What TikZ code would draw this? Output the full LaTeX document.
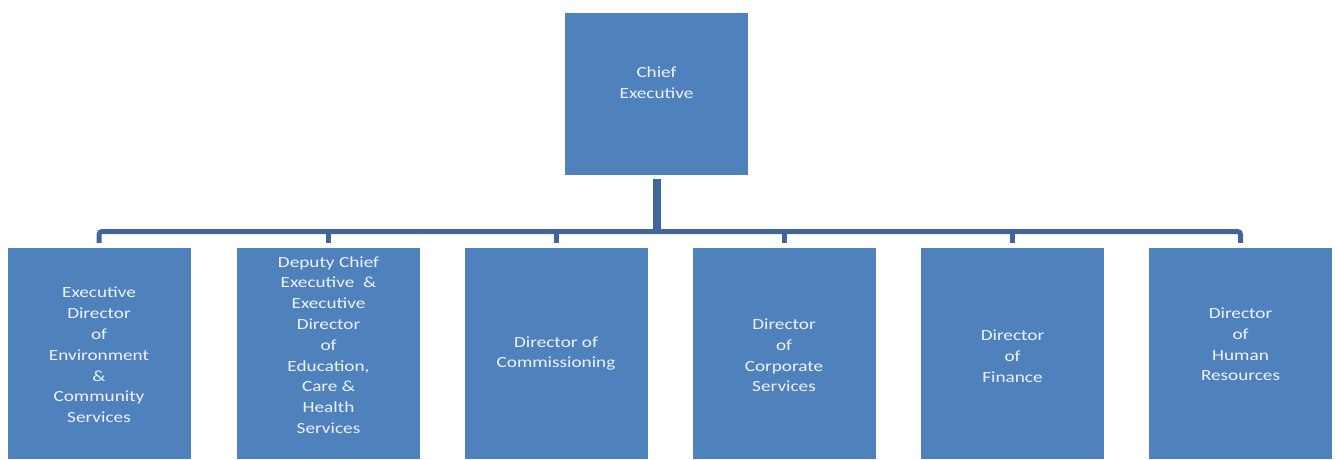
\documentclass[tikz,border=0pt]{standalone}
\usepackage{fontspec}
\setmainfont[FakeStretch=1.24]{Carlito}
\usepackage{tikz}
\definecolor{boxblue}{RGB}{79,129,189}
\definecolor{linkblue}{RGB}{65,103,154}
\definecolor{txtwhite}{RGB}{238,242,248}

\begin{document}
\begin{tikzpicture}[x=1pt,y=-1pt]
\tikzstyle{unit}=[rectangle,fill=boxblue,minimum width=183pt,minimum height=211pt,inner sep=0pt]
\tikzstyle{txt}=[align=center,text=txtwhite,inner sep=0pt,font=\fontsize{15.5}{20.8}\selectfont]
\tikzstyle{link}=[draw=linkblue,line width=5pt,rounded corners=3pt]
\tikzstyle{stem}=[draw=linkblue,line width=8pt]
\useasboundingbox (0,0) rectangle (1337,459);
\node[unit,minimum height=162pt] (ceo) at (656.5,94) {};
\node[unit] (d1) at (99,353.5) {};
\node[unit] (d2) at (328.5,353.5) {};
\node[unit] (d3) at (556,353.5) {};
\node[unit] (d4) at (784,353.5) {};
\node[unit] (d5) at (1012.5,353.5) {};
\node[unit] (d6) at (1240.5,353.5) {};
\coordinate (bus) at (656.5,231.5);
% labels
\node[txt] (ceo-t) at (656.5,82.5) {Chief\\Executive};
\node[txt] (d1-t) at (99,355) {Executive\\Director\\of\\Environment\\\&\\Community\\Services};
\node[txt] (d2-t) at (328.5,345) {Deputy Chief\\Executive \ \&\\Executive\\Director\\of\\Education,\\Care \&\\Health\\Services};
\node[txt] (d3-t) at (556,353.5) {Director of\\Commissioning};
\node[txt] (d4-t) at (784,355.5) {Director\\of\\Corporate\\Services};
\node[txt] (d5-t) at (1012.5,356) {Director\\of\\Finance};
\node[txt] (d6-t) at (1240.5,344.5) {Director\\of\\Human\\Resources};
% connectors
\draw[stem] ([yshift=-4pt]ceo.south) -- (ceo.south |- bus);
\draw[link] ([yshift=5pt]d1.north) |- (bus) -| ([yshift=5pt]d6.north);
\draw[link] (d2.north |- bus) -- ([yshift=5pt]d2.north);
\draw[link] (d3.north |- bus) -- ([yshift=5pt]d3.north);
\draw[link] (d4.north |- bus) -- ([yshift=5pt]d4.north);
\draw[link] (d5.north |- bus) -- ([yshift=5pt]d5.north);
\end{tikzpicture}
\end{document}
